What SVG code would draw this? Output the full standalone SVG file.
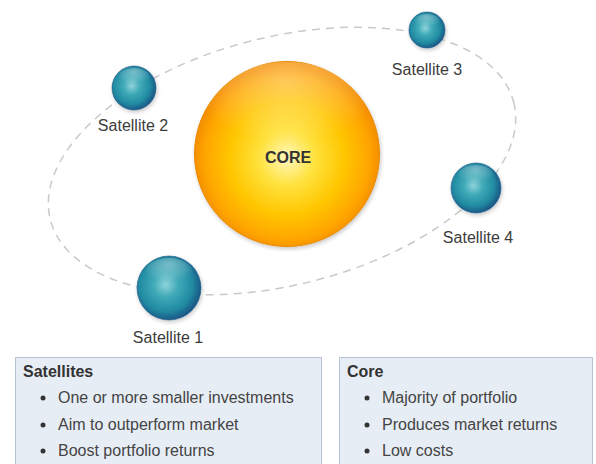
<svg xmlns="http://www.w3.org/2000/svg" width="596" height="464" viewBox="0 0 596 464">
<defs>
<radialGradient id="coreG" cx="0.5" cy="0.52" r="0.5">
<stop offset="0" stop-color="#fff8c0"/>
<stop offset="0.3" stop-color="#ffe23e"/>
<stop offset="0.62" stop-color="#ffc600"/>
<stop offset="0.88" stop-color="#ffa600"/>
<stop offset="1" stop-color="#f59000"/>
</radialGradient>
<radialGradient id="gloss" cx="0.5" cy="0.2" r="0.6">
<stop offset="0" stop-color="#ffffff" stop-opacity="0.35"/>
<stop offset="0.6" stop-color="#ffffff" stop-opacity="0.15"/>
<stop offset="1" stop-color="#ffffff" stop-opacity="0"/>
</radialGradient>
<radialGradient id="satG" cx="0.45" cy="0.45" r="0.55">
<stop offset="0" stop-color="#8fd3da"/>
<stop offset="0.35" stop-color="#3faab8"/>
<stop offset="0.75" stop-color="#218ba2"/>
<stop offset="1" stop-color="#1b5a88"/>
</radialGradient>
<filter id="sh" x="-20%" y="-20%" width="140%" height="140%">
<feGaussianBlur in="SourceAlpha" stdDeviation="2"/>
<feOffset dx="1" dy="1.5"/>
<feComponentTransfer><feFuncA type="linear" slope="0.22"/></feComponentTransfer>
<feMerge><feMergeNode/><feMergeNode in="SourceGraphic"/></feMerge>
</filter>
</defs>
<style>
.lbl{font-family:"Liberation Sans",Arial,sans-serif;font-size:16px;fill:#3c3c3c;text-anchor:middle}
.ttl{font-family:"Liberation Sans",Arial,sans-serif;font-size:16px;font-weight:bold;fill:#333}
.itm{font-family:"Liberation Sans",Arial,sans-serif;font-size:16px;fill:#444}
.box{fill:#e7edf5;stroke:#b6c2d1;stroke-width:1}
.sat{fill:url(#satG);stroke:#1d5a86;stroke-width:0.6}
.orbit{fill:none;stroke:#c9c9c9;stroke-width:1.5;stroke-dasharray:8 6}
</style>
<rect width="596" height="464" fill="#ffffff"/>
<g id="connectors">
<ellipse class="orbit" cx="282" cy="161" rx="239" ry="124" transform="rotate(-14.2 282 161)"/>
</g>
<g id="core">
<circle cx="287" cy="154" r="92.5" fill="url(#coreG)" stroke="#e88a00" stroke-width="1" filter="url(#sh)"/>
<ellipse cx="287" cy="112" rx="80" ry="50" fill="url(#gloss)"/>
<text x="288" y="163" class="ttl" text-anchor="middle" fill="#3a3520">CORE</text>
</g>
<g id="satellite1">
<circle class="sat" cx="169" cy="288" r="32" filter="url(#sh)"/>
<ellipse cx="169" cy="273" rx="24" ry="15" fill="url(#gloss)"/>
<text x="168" y="343" class="lbl">Satellite 1</text>
</g>
<g id="satellite2">
<circle class="sat" cx="134" cy="88" r="22" filter="url(#sh)"/>
<ellipse cx="134" cy="78" rx="16" ry="10" fill="url(#gloss)"/>
<text x="133" y="131" class="lbl">Satellite 2</text>
</g>
<g id="satellite3">
<circle class="sat" cx="427" cy="30" r="18" filter="url(#sh)"/>
<ellipse cx="427" cy="22" rx="13" ry="8" fill="url(#gloss)"/>
<text x="427" y="75" class="lbl">Satellite 3</text>
</g>
<g id="satellite4">
<circle class="sat" cx="476" cy="188" r="25" filter="url(#sh)"/>
<ellipse cx="476" cy="176" rx="18" ry="11" fill="url(#gloss)"/>
<text x="478" y="243" class="lbl">Satellite 4</text>
</g>
<g id="satellites-box">
<rect class="box" x="15.5" y="357.5" width="306" height="120"/>
<text x="23" y="377" class="ttl">Satellites</text>
<circle cx="43" cy="398" r="2.5" fill="#333"/>
<text x="58" y="403" class="itm">One or more smaller investments</text>
<circle cx="43" cy="425" r="2.5" fill="#333"/>
<text x="58" y="430" class="itm">Aim to outperform market</text>
<circle cx="43" cy="451" r="2.5" fill="#333"/>
<text x="58" y="456" class="itm">Boost portfolio returns</text>
</g>
<g id="core-box">
<rect class="box" x="339.5" y="357.5" width="253" height="120"/>
<text x="347" y="377" class="ttl">Core</text>
<circle cx="367" cy="398" r="2.5" fill="#333"/>
<text x="382" y="403" class="itm">Majority of portfolio</text>
<circle cx="367" cy="425" r="2.5" fill="#333"/>
<text x="382" y="430" class="itm">Produces market returns</text>
<circle cx="367" cy="451" r="2.5" fill="#333"/>
<text x="382" y="456" class="itm">Low costs</text>
</g>
</svg>
